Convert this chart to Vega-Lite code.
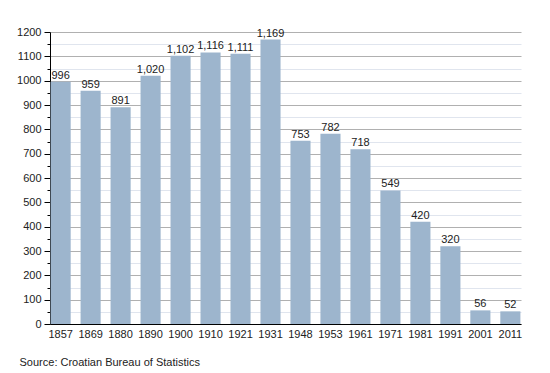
{
  "$schema": "https://vega.github.io/schema/vega-lite/v6.json",
  "width": 471,
  "height": 292,
  "autosize": {"type": "none"},
  "padding": {"left": 50, "top": 32, "right": 29, "bottom": 49},
  "background": "white",
  "config": {"view": {"stroke": null}, "font": "Liberation Sans"},
  "title": {"text": "Source: Croatian Bureau of Statistics", "orient": "bottom", "anchor": "start", "dx": 3, "offset": 18, "fontSize": 11, "fontWeight": "normal", "color": "#222"},
  "data": {"values": [
    {"year": "1857", "pop": 996},
    {"year": "1869", "pop": 959},
    {"year": "1880", "pop": 891},
    {"year": "1890", "pop": 1020},
    {"year": "1900", "pop": 1102},
    {"year": "1910", "pop": 1116},
    {"year": "1921", "pop": 1111},
    {"year": "1931", "pop": 1169},
    {"year": "1948", "pop": 753},
    {"year": "1953", "pop": 782},
    {"year": "1961", "pop": 718},
    {"year": "1971", "pop": 549},
    {"year": "1981", "pop": 420},
    {"year": "1991", "pop": 320},
    {"year": "2001", "pop": 56},
    {"year": "2011", "pop": 52}
  ]},
  "encoding": {
    "x": {"field": "year", "type": "ordinal", "sort": null,
      "scale": {"paddingInner": 0.33, "paddingOuter": 0.02},
      "axis": {"title": null, "labelAngle": 0, "ticks": false, "domainColor": "#000", "labelFontSize": 11, "labelColor": "#222", "labelPadding": 4}},
    "y": {"field": "pop", "type": "quantitative",
      "scale": {"domain": [0, 1200], "nice": false},
      "axis": {"title": null, "values": [0,50,100,150,200,250,300,350,400,450,500,550,600,650,700,750,800,850,900,950,1000,1050,1100,1150,1200],
        "labelExpr": "datum.value % 100 === 0 ? datum.value : ''",
        "gridColor": {"condition": {"test": "datum.value % 100 === 0", "value": "#b0b0b0"}, "value": "#e0e5ee"},
        "tickSize": {"condition": {"test": "datum.value % 100 === 0", "value": 6}, "value": 3},
        "tickColor": "#000", "domainColor": "#000", "labelFontSize": 11, "labelColor": "#222", "labelPadding": 3}}
  },
  "layer": [
    {"mark": {"type": "bar", "color": "#9db5cd"}},
    {"mark": {"type": "text", "baseline": "bottom", "dy": -1, "fontSize": 11, "color": "#222"},
      "encoding": {"text": {"field": "pop", "type": "quantitative", "format": ","}}}
  ]
}
